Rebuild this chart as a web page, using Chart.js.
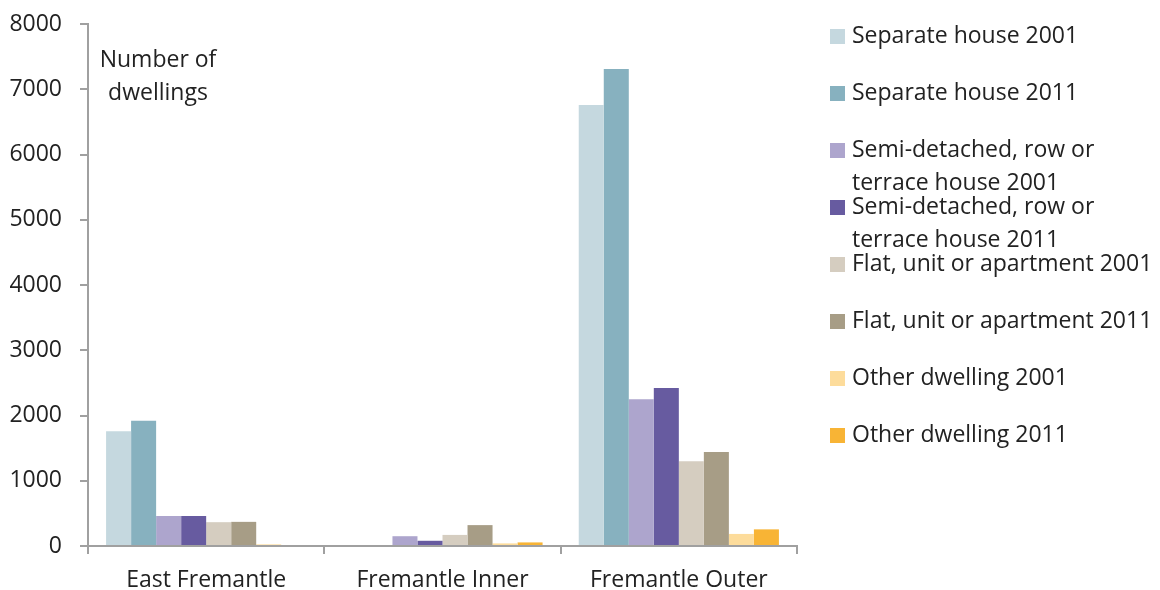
<!DOCTYPE html>
<html>
<head>
<meta charset="utf-8">
<script src="https://cdn.jsdelivr.net/npm/chart.js@4"></script>
<style>
  html, body { margin: 0; padding: 0; background: #fff; }
  canvas { display: block; }
</style>
</head>
<body>
<canvas id="dwellingChart" width="1160" height="590"></canvas>
<script>
const areas = ['East Fremantle', 'Fremantle Inner', 'Fremantle Outer'];
const yTicks = [0, 1000, 2000, 3000, 4000, 5000, 6000, 7000, 8000];

const separate2001 = [1760, 0, 6760];
const separate2011 = [1920, 0, 7310];
const semi2001 = [460, 150, 2250];
const semi2011 = [460, 80, 2420];
const flat2001 = [365, 170, 1300];
const flat2011 = [370, 320, 1440];
const other2001 = [25, 40, 185];
const other2011 = [0, 55, 255];

const seriesLabels = [
  ['Separate house 2001'],
  ['Separate house 2011'],
  ['Semi-detached, row or', 'terrace house 2001'],
  ['Semi-detached, row or', 'terrace house 2011'],
  ['Flat, unit or apartment 2001'],
  ['Flat, unit or apartment 2011'],
  ['Other dwelling 2001'],
  ['Other dwelling 2011']
];
const seriesValues = [separate2001, separate2011, semi2001, semi2011, flat2001, flat2011, other2001, other2011];
const seriesColours = ['#c5d8df', '#87b1bf', '#ada5cd', '#675ba0', '#d5cdc0', '#a79d86', '#fddc9b', '#f8b435'];

const FONT = '"Open Sans", sans-serif';
const TEXT = '#222222';
const AXIS = '#a0a0a0';

// draws the legend on the right and the y axis caption inside the plot
const sideText = {
  id: 'sideText',
  afterDraw(chart) {
    const ctx = chart.ctx;
    ctx.save();
    ctx.font = '23px ' + FONT;
    ctx.fillStyle = TEXT;
    ctx.textBaseline = 'middle';

    ctx.textAlign = 'center';
    ctx.fillText('Number of', 158, 60);
    ctx.fillText('dwellings', 158, 93);

    ctx.textAlign = 'left';
    chart.data.datasets.forEach((ds, i) => {
      const y = 36 + i * 57;
      ctx.fillStyle = ds.backgroundColor;
      ctx.fillRect(830, y - 7, 15, 15);
      ctx.fillStyle = TEXT;
      ds.labelLines.forEach((line, j) => {
        ctx.fillText(line, 852, y + j * 33);
      });
    });
    ctx.restore();
  }
};

const datasets = seriesValues.map((values, i) => ({
  label: seriesLabels[i].join(' '),
  labelLines: seriesLabels[i],
  data: values,
  backgroundColor: seriesColours[i],
  borderWidth: 0,
  barPercentage: 1,
  categoryPercentage: 0.847
}));

new Chart(document.getElementById('dwellingChart'), {
  type: 'bar',
  data: { labels: areas, datasets: datasets },
  plugins: [sideText],
  options: {
    responsive: false,
    animation: false,
    layout: { padding: { top: 24, right: 363, left: 0, bottom: 0 } },
    plugins: {
      legend: { display: false },
      tooltip: { enabled: false }
    },
    scales: {
      x: {
        grid: { drawOnChartArea: false, drawTicks: true, tickLength: 8, color: AXIS, lineWidth: 2 },
        border: { color: AXIS, width: 2 },
        ticks: { color: TEXT, font: { family: FONT, size: 23 }, padding: 13 },
        afterFit(scale) { scale.height = 44; }
      },
      y: {
        min: 0,
        max: 8000,
        afterBuildTicks(scale) { scale.ticks = yTicks.map(v => ({ value: v })); },
        grid: { drawOnChartArea: false, drawTicks: true, tickLength: 8, color: AXIS, lineWidth: 2 },
        border: { color: AXIS, width: 2 },
        ticks: { color: TEXT, font: { family: FONT, size: 23 }, padding: 18, callback: v => String(v) },
        afterFit(scale) {
          scale.width = 88;
          scale.paddingTop = 0;
          scale.paddingBottom = 0;
        }
      }
    }
  }
});
</script>
</body>
</html>
